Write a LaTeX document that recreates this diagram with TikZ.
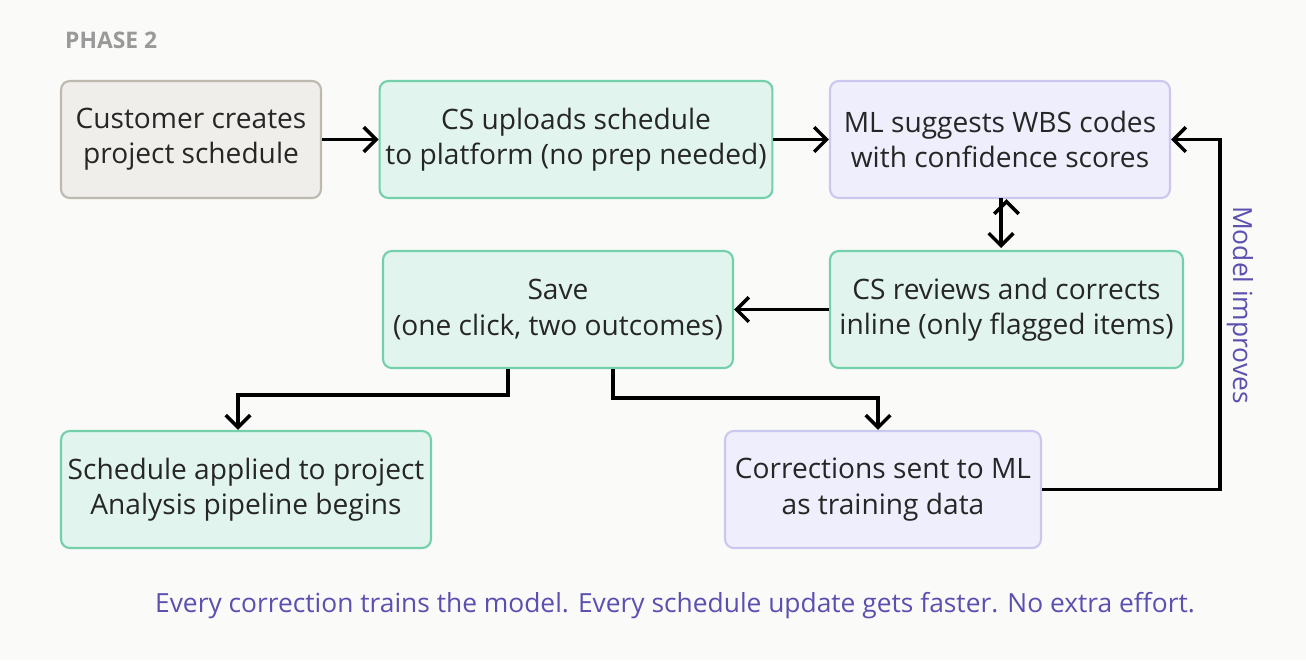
\documentclass[tikz,border=0pt]{standalone}
\usepackage{fontspec}
\setmainfont{Open Sans}
\usetikzlibrary{arrows.meta}
\definecolor{bg}{HTML}{FAFAF8}
\definecolor{grayfill}{HTML}{EFEEEA}
\definecolor{grayline}{HTML}{BDB9AE}
\definecolor{greenfill}{HTML}{E1F5EE}
\definecolor{greenline}{HTML}{74D0AA}
\definecolor{purfill}{HTML}{EEEEFC}
\definecolor{purline}{HTML}{CBC8F0}
\definecolor{purtext}{HTML}{5B4FB0}
\tikzset{
 box/.style={draw, line width=1.2pt, rounded corners=5pt, align=center, font=\fontsize{16}{20}\selectfont, text=black!85},
 gbox/.style={box, fill=grayfill, draw=grayline},
 grbox/.style={box, fill=greenfill, draw=greenline},
 pbox/.style={box, fill=purfill, draw=purline},
 arr/.style={line width=2pt, -{Straight Barb[length=7pt,width=14pt]}}
}
\begin{document}
\begin{tikzpicture}[x=0.02cm,y=-0.02cm]
\fill[bg] (0,0) rectangle (1306,660);
\node[anchor=west, text=black!40, font=\fontsize{13}{16}\selectfont\bfseries] (ph) at (59,40) {PHASE 2};
\node[gbox, minimum width=5.2cm, minimum height=2.34cm] (cust) at (191,139.5) {Customer creates\\project schedule};
\node[grbox, minimum width=7.72cm, minimum height=2.34cm] (up) at (576,139.5) {CS uploads schedule\\to platform (no prep needed)};
\node[pbox, minimum width=6.8cm, minimum height=2.34cm] (ml) at (1000,139.5) {ML suggests WBS codes\\with confidence scores};
\node[grbox, minimum width=7.06cm, minimum height=2.34cm] (rev) at (1006.5,309.5) {CS reviews and corrects\\inline (only flagged items)};
\node[grbox, minimum width=7.0cm, minimum height=2.34cm] (save) at (558,309.5) {Save\\(one click, two outcomes)};
\node[grbox, minimum width=7.4cm, minimum height=2.34cm] (app) at (246,489.5) {Schedule applied to project\\Analysis pipeline begins};
\node[pbox, minimum width=6.32cm, minimum height=2.34cm] (corr) at (883,489.5) {Corrections sent to ML\\as training data};
\draw[arr] (cust) -- (up);
\draw[arr] (up) -- (ml);
\draw[arr] (ml.south -| rev.north) ++(0,0) coordinate (a1);
\draw[arr] (1001,198) -- (1001,248);
\draw[arr] (rev) -- (save);
\draw[arr] (save.south -| 508,0) -- (508,395) -- (238,395) -- (app.north -| 238,0);
\draw[arr] (save.south -| 613,0) -- (613,398) -- (878,398) -- (corr.north -| 878,0);
\draw[arr] (corr.east) -- (1220,489.5) -- (1220,139.5) -- (ml.east);
\node[rotate=-90, text=purtext, font=\fontsize{15}{18}\selectfont] (mi) at (1240,305) {Model improves};
\node[text=purtext, font=\fontsize{15}{18}\selectfont] (foot) at (675,606) {Every correction trains the model. Every schedule update gets faster. No extra effort.};
\end{tikzpicture}
\end{document}
